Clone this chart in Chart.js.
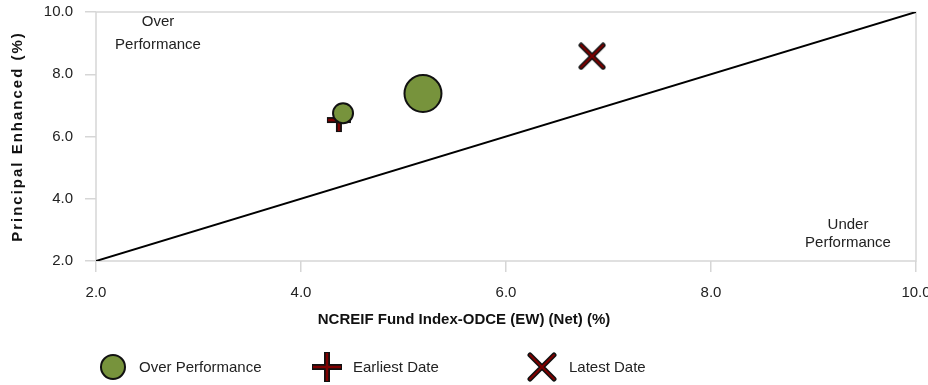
<!DOCTYPE html>
<html>
<head>
<meta charset="utf-8">
<script src="https://cdn.jsdelivr.net/npm/chart.js@4/dist/chart.umd.min.js"></script>
<style>
  html, body { margin: 0; padding: 0; background: #fff; }
  #wrap { position: relative; width: 928px; height: 385px; }
  #legend { position: absolute; left: 0; top: 0; width: 928px; height: 385px; pointer-events: none;
            font-family: "Liberation Sans", Arial, sans-serif; font-size: 15px; color: #222; }
  .item { position: absolute; top: 353px; height: 28px; }
  .item canvas { position: absolute; top: 0; }
  .item span { position: absolute; white-space: nowrap; line-height: 28px; top: 0; }
</style>
</head>
<body>
<div id="wrap">
  <canvas id="c" width="928" height="385"></canvas>
  <div id="legend"></div>
</div>
<script>
// ---- data ----
const seriesNames = ["Over Performance", "Earliest Date", "Latest Date"];
const overX = [4.41, 5.19];
const overY = [6.75, 7.38];
const overSize = [10, 18.5];
const earliestX = [4.37];
const earliestY = [6.53];
const latestX = [6.84];
const latestY = [8.58];
const diagX = [2, 10];
const diagY = [2, 10];
const xTicks = [2.0, 4.0, 6.0, 8.0, 10.0];
const yTicks = [2.0, 4.0, 6.0, 8.0, 10.0];
const xTitle = "NCREIF Fund Index-ODCE (EW) (Net) (%)";
const yTitle = "Principal Enhanced (%)";
const noteOver = ["Over", "Performance"];
const noteUnder = ["Under", "Performance"];

const GREEN = '#77933C';
const MAROON = '#7F0000';
const FONT = '"Liberation Sans", Arial, sans-serif';

function makePlus(size) {
  const c = document.createElement('canvas');
  c.width = size; c.height = size;
  const g = c.getContext('2d');
  const m = size / 2;
  g.lineCap = 'butt';
  g.strokeStyle = '#111'; g.lineWidth = 6;
  g.beginPath(); g.moveTo(1, m); g.lineTo(size - 1, m); g.moveTo(m, 1); g.lineTo(m, size - 1); g.stroke();
  g.strokeStyle = MAROON; g.lineWidth = 2.5;
  g.beginPath(); g.moveTo(2, m); g.lineTo(size - 2, m); g.moveTo(m, 2); g.lineTo(m, size - 2); g.stroke();
  return c;
}
function makeCross(size) {
  const c = document.createElement('canvas');
  c.width = size; c.height = size;
  const g = c.getContext('2d');
  const a = 3, b = size - 3;
  g.lineCap = 'round';
  g.strokeStyle = '#111'; g.lineWidth = 5;
  g.beginPath(); g.moveTo(a, a); g.lineTo(b, b); g.moveTo(b, a); g.lineTo(a, b); g.stroke();
  g.strokeStyle = MAROON; g.lineWidth = 2;
  g.beginPath(); g.moveTo(a, a); g.lineTo(b, b); g.moveTo(b, a); g.lineTo(a, b); g.stroke();
  return c;
}
function makeCircle(size, r) {
  const c = document.createElement('canvas');
  c.width = size; c.height = size;
  const g = c.getContext('2d');
  g.fillStyle = GREEN; g.strokeStyle = '#111'; g.lineWidth = 2;
  g.beginPath(); g.arc(size / 2, size / 2, r, 0, Math.PI * 2); g.fill(); g.stroke();
  return c;
}

const plusImg = makePlus(26);
const crossImg = makeCross(28);

const pts = (xs, ys) => xs.map((x, i) => ({ x, y: ys[i] }));

const framePlugin = {
  id: 'frame',
  beforeDatasetsDraw(chart) {
    const { ctx, chartArea: a } = chart;
    ctx.save();
    ctx.strokeStyle = '#d6d6d6'; ctx.lineWidth = 1.5;
    ctx.strokeRect(a.left, a.top, a.right - a.left, a.bottom - a.top);
    ctx.restore();
  },
  afterDraw(chart) {
    const { ctx, chartArea: a } = chart;
    ctx.save();
    ctx.fillStyle = '#222';
    ctx.font = '15px ' + FONT;
    ctx.textAlign = 'center'; ctx.textBaseline = 'middle';
    ctx.fillText(noteOver[0], a.left + 62, 22);
    ctx.fillText(noteOver[1], a.left + 62, 45);
    ctx.fillText(noteUnder[0], a.right - 68, 225);
    ctx.fillText(noteUnder[1], a.right - 68, 243);
    // x-axis title, centred on the canvas
    ctx.fillStyle = '#111';
    ctx.font = 'bold 15px ' + FONT;
    ctx.fillText(xTitle, chart.width / 2, 320);
    // y-axis title with letter spacing
    ctx.letterSpacing = '2px';
    ctx.translate(18, (a.top + a.bottom) / 2);
    ctx.rotate(-Math.PI / 2);
    ctx.fillText(yTitle, 0, 0);
    ctx.restore();
  }
};

const chart = new Chart(document.getElementById('c'), {
  type: 'bubble',
  data: {
    datasets: [
      {
        label: seriesNames[0],
        data: overX.map((x, i) => ({ x, y: overY[i], r: overSize[i] })),
        backgroundColor: GREEN, borderColor: '#111', borderWidth: 2,
        hoverRadius: 0
      },
      {
        type: 'scatter',
        label: seriesNames[1],
        data: pts(earliestX, earliestY),
        pointStyle: plusImg, pointRadius: 13
      },
      {
        type: 'scatter',
        label: seriesNames[2],
        data: pts(latestX, latestY),
        pointStyle: crossImg, pointRadius: 14
      },
      {
        type: 'scatter',
        label: 'diag',
        data: pts(diagX, diagY),
        showLine: true, borderColor: '#000', borderWidth: 2,
        pointRadius: 0, fill: false
      }
    ]
  },
  options: {
    responsive: false,
    animation: false,
    events: [],
    layout: { autoPadding: false, padding: { top: 12, right: 12, left: 0, bottom: 52 } },
    plugins: { legend: { display: false }, tooltip: { enabled: false } },
    scales: {
      x: {
        type: 'linear', min: 2, max: 10,
        afterBuildTicks: s => { s.ticks = xTicks.map(v => ({ value: v })); },
        afterFit: s => { s.height = 72; s.paddingLeft = 0; s.paddingRight = 0; s.paddingTop = 0; s.paddingBottom = 0; },
        grid: { drawOnChartArea: false, color: '#d6d6d6', tickLength: 11, lineWidth: 1.5 },
        border: { display: false },
        ticks: { color: '#222', font: { family: FONT, size: 15 }, padding: 12, callback: v => Number(v).toFixed(1), maxRotation: 0 }
      },
      y: {
        type: 'linear', min: 2, max: 10,
        afterBuildTicks: s => { s.ticks = yTicks.map(v => ({ value: v })); },
        afterFit: s => { s.width = 96; s.paddingLeft = 0; s.paddingRight = 0; s.paddingTop = 0; s.paddingBottom = 0; },
        grid: { drawOnChartArea: false, color: '#d6d6d6', tickLength: 11, lineWidth: 1.5 },
        border: { display: false },
        ticks: { color: '#222', font: { family: FONT, size: 15 }, padding: 12, callback: v => Number(v).toFixed(1) }
      }
    }
  },
  plugins: [framePlugin]
});

// HTML legend
const legend = document.getElementById('legend');
const legendItems = [
  { img: makeCircle(28, 12), cx: 113, tx: 139 },
  { img: makePlus(32), cx: 327, tx: 353 },
  { img: makeCross(30), cx: 542, tx: 569 }
];
legendItems.forEach((it, i) => {
  const d = document.createElement('div');
  d.className = 'item';
  d.style.left = '0px';
  it.img.style.left = (it.cx - it.img.width / 2) + 'px';
  it.img.style.top = (14 - it.img.height / 2) + 'px';
  const s = document.createElement('span');
  s.textContent = seriesNames[i];
  s.style.left = it.tx + 'px';
  d.appendChild(it.img); d.appendChild(s);
  legend.appendChild(d);
});
</script>
</body>
</html>
